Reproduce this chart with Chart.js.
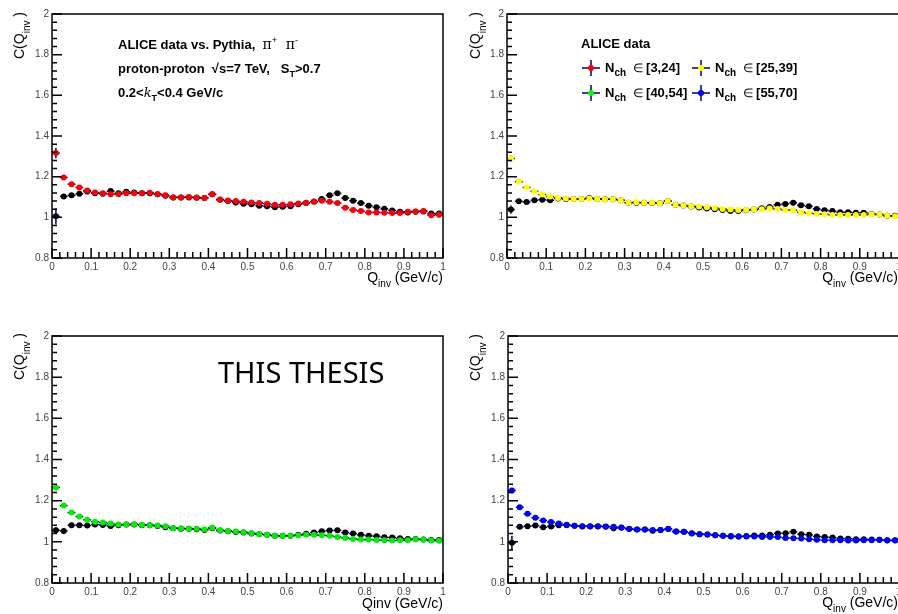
<!DOCTYPE html>
<html>
<head>
<meta charset="utf-8">
<script src="https://cdn.jsdelivr.net/npm/chart.js@4.4.0/dist/chart.umd.min.js"></script>
<style>
html, body { margin: 0; padding: 0; background: #fff; overflow: hidden; }
#page { position: relative; width: 898px; height: 614px; overflow: hidden; }
#page canvas { position: absolute; }
</style>
</head>
<body>
<div id="page">
  <canvas id="c1" width="449" height="300" style="left:0;top:0"></canvas>
  <canvas id="c2" width="460" height="300" style="left:449px;top:0"></canvas>
  <canvas id="c3" width="449" height="307" style="left:0;top:307px"></canvas>
  <canvas id="c4" width="460" height="307" style="left:449px;top:307px"></canvas>
</div>
<script>
// bin centres of Q_inv (GeV/c), bin width 0.02
const qBins = [0.01,0.03,0.05,0.07,0.09,0.11,0.13,0.15,0.17,0.19,
  0.21,0.23,0.25,0.27,0.29,0.31,0.33,0.35,0.37,0.39,
  0.41,0.43,0.45,0.47,0.49,0.51,0.53,0.55,0.57,0.59,
  0.61,0.63,0.65,0.67,0.69,0.71,0.73,0.75,0.77,0.79,
  0.81,0.83,0.85,0.87,0.89,0.91,0.93,0.95,0.97,0.99];
const binHalf = 0.01;

// ALICE data, N_ch in [3,24]
const alice3_24 = [1.316,1.196,1.163,1.147,1.132,1.122,1.119,1.114,1.114,1.118,
  1.118,1.119,1.121,1.114,1.109,1.098,1.098,1.100,1.098,1.095,
  1.113,1.088,1.083,1.080,1.077,1.073,1.070,1.067,1.062,1.062,
  1.064,1.068,1.072,1.077,1.082,1.077,1.070,1.047,1.036,1.031,
  1.024,1.024,1.023,1.021,1.021,1.028,1.029,1.031,1.010,1.013];
const pythia3_24 = [1.005,1.103,1.108,1.116,1.127,1.119,1.116,1.129,1.119,1.126,
  1.122,1.119,1.119,1.114,1.106,1.098,1.098,1.098,1.096,1.095,
  1.113,1.086,1.080,1.073,1.067,1.064,1.057,1.054,1.050,1.052,
  1.055,1.064,1.070,1.078,1.090,1.108,1.118,1.095,1.082,1.070,
  1.057,1.050,1.042,1.034,1.028,1.024,1.028,1.029,1.019,1.019];

// N_ch in [25,39]
const alice25_39 = [1.289,1.175,1.147,1.128,1.112,1.102,1.095,1.093,1.090,1.090,
  1.093,1.090,1.089,1.089,1.084,1.072,1.074,1.072,1.072,1.069,
  1.080,1.062,1.058,1.054,1.053,1.049,1.046,1.041,1.038,1.036,
  1.036,1.038,1.040,1.043,1.041,1.036,1.035,1.025,1.020,1.017,
  1.015,1.012,1.012,1.012,1.012,1.012,1.015,1.014,1.008,1.005];
const pythia25_39 = [1.038,1.079,1.075,1.084,1.087,1.084,1.093,1.090,1.090,1.090,
  1.095,1.090,1.089,1.089,1.084,1.072,1.072,1.072,1.070,1.069,
  1.080,1.062,1.058,1.053,1.048,1.043,1.040,1.036,1.031,1.031,
  1.035,1.038,1.045,1.051,1.062,1.066,1.072,1.059,1.054,1.041,
  1.035,1.031,1.025,1.025,1.022,1.023,1.017,1.014,1.008,1.008];

// N_ch in [40,54]
const alice40_54 = [1.264,1.176,1.142,1.123,1.107,1.098,1.094,1.089,1.084,1.084,
  1.085,1.082,1.081,1.079,1.076,1.066,1.066,1.064,1.063,1.060,
  1.069,1.056,1.053,1.050,1.047,1.042,1.037,1.035,1.030,1.029,
  1.030,1.032,1.034,1.034,1.032,1.029,1.024,1.019,1.014,1.011,
  1.011,1.009,1.008,1.006,1.008,1.008,1.012,1.011,1.006,1.005];
const pythia40_54 = [1.056,1.053,1.081,1.081,1.079,1.084,1.082,1.077,1.081,1.084,
  1.084,1.081,1.081,1.077,1.071,1.066,1.064,1.063,1.061,1.058,
  1.066,1.055,1.051,1.048,1.045,1.040,1.037,1.034,1.030,1.029,
  1.030,1.034,1.039,1.045,1.051,1.055,1.056,1.045,1.040,1.034,
  1.030,1.027,1.022,1.021,1.017,1.014,1.014,1.011,1.009,1.009];

// N_ch in [55,70]
const alice55_70 = [1.249,1.168,1.136,1.117,1.104,1.096,1.089,1.083,1.078,1.076,
  1.076,1.076,1.075,1.073,1.070,1.063,1.060,1.060,1.057,1.057,
  1.063,1.050,1.049,1.041,1.037,1.036,1.032,1.029,1.028,1.026,
  1.026,1.026,1.024,1.024,1.023,1.019,1.018,1.016,1.013,1.010,
  1.008,1.008,1.008,1.006,1.006,1.008,1.008,1.010,1.006,1.006];
const pythia55_70 = [0.995,1.073,1.076,1.079,1.071,1.075,1.081,1.081,1.078,1.075,
  1.075,1.075,1.073,1.066,1.068,1.062,1.060,1.060,1.054,1.057,
  1.062,1.050,1.049,1.042,1.037,1.036,1.032,1.029,1.026,1.026,
  1.028,1.031,1.031,1.034,1.041,1.042,1.049,1.037,1.034,1.026,
  1.023,1.021,1.016,1.015,1.013,1.013,1.011,1.010,1.008,1.008];

// vertical error of the first bin
const aliceErr0 = [0.025, 0.015, 0.012, 0.012];
const pythiaErr0 = [0.04, 0.02, 0.015, 0.035];

const yTickLabels = ['0.8', '1', '1.2', '1.4', '1.6', '1.8', '2'];
const xTickLabels = ['0', '0.1', '0.2', '0.3', '0.4', '0.5', '0.6', '0.7', '0.8', '0.9', '1'];

const SANS = '"Liberation Sans", Arial, sans-serif';
const BAR = '#00006e';

function points(vals, err0) {
  return qBins.map((q, i) => ({ x: q, y: vals[i], e: i === 0 ? err0 : 0 }));
}

function rich(ctx, parts, x, y, align) {
  let w = 0;
  parts.forEach(p => { ctx.font = p[1]; w += ctx.measureText(p[0]).width; });
  let cx = align === 'right' ? x - w : x;
  parts.forEach(p => {
    ctx.font = p[1];
    ctx.fillText(p[0], cx, y + (p[2] || 0));
    cx += ctx.measureText(p[0]).width;
  });
}

function yTitle(ctx, x, yEnd) {
  ctx.save();
  ctx.translate(x, yEnd);
  ctx.rotate(-Math.PI / 2);
  ctx.fillStyle = '#000';
  rich(ctx, [['C(Q', '14px ' + SANS], ['inv', '10px ' + SANS, 6], [' )', '14px ' + SANS]], 0, 0, 'right');
  ctx.restore();
}

function xTitle(ctx, right, base, plain) {
  ctx.fillStyle = '#000';
  if (plain) rich(ctx, [['Qinv (GeV/c)', '14px ' + SANS]], right, base, 'right');
  else rich(ctx, [['Q', '14px ' + SANS], ['inv', '10px ' + SANS, 5], [' (GeV/c)', '14px ' + SANS]], right, base, 'right');
}

// ROOT-like frame, inward ticks and horizontal bin-width bars
const rootStyle = {
  id: 'rootStyle',
  beforeDatasetsDraw(chart) {
    const { ctx, scales: { x, y } } = chart;
    ctx.save();
    ctx.strokeStyle = BAR;
    ctx.lineWidth = 1.5;
    chart.data.datasets.forEach(ds => {
      ds.data.forEach(p => {
        const py = y.getPixelForValue(p.y);
        const px = x.getPixelForValue(p.x);
        ctx.beginPath();
        ctx.moveTo(x.getPixelForValue(p.x - binHalf), py);
        ctx.lineTo(x.getPixelForValue(p.x + binHalf), py);
        if (p.e) {
          ctx.moveTo(px, y.getPixelForValue(p.y - p.e));
          ctx.lineTo(px, y.getPixelForValue(p.y + p.e));
        }
        ctx.stroke();
      });
    });
    ctx.restore();
  },
  afterDraw(chart) {
    const { ctx, chartArea: a, scales: { x, y } } = chart;
    ctx.save();
    ctx.strokeStyle = '#000';
    ctx.lineWidth = 1.5;
    ctx.strokeRect(a.left, a.top, a.right - a.left, a.bottom - a.top);
    ctx.beginPath();
    for (let i = 0; i <= 30; i++) {
      const py = y.getPixelForValue(0.8 + i * 0.04);
      ctx.moveTo(a.left, py);
      ctx.lineTo(a.left + (i % 5 === 0 ? 10 : 5), py);
    }
    for (let i = 0; i <= 50; i++) {
      const px = x.getPixelForValue(i * 0.02);
      ctx.moveTo(px, a.bottom);
      ctx.lineTo(px, a.bottom - (i % 5 === 0 ? 10 : 6));
    }
    ctx.stroke();
    ctx.restore();
  }
};

function makePanel(id, alice, pythia, color, idx, box, notes) {
  const tickFont = { family: SANS, size: 10 };
  return new Chart(document.getElementById(id), {
    type: 'scatter',
    data: {
      datasets: [
        // first dataset is drawn on top
        { label: 'ALICE', data: points(alice, aliceErr0[idx]), backgroundColor: color, pointRadius: 3, pointBorderWidth: 0 },
        { label: 'Pythia', data: points(pythia, pythiaErr0[idx]), backgroundColor: '#000', pointRadius: 3, pointBorderWidth: 0 }
      ]
    },
    options: {
      responsive: false,
      animation: false,
      events: [],
      layout: { padding: { top: box.top, right: box.right, left: 0, bottom: 0 } },
      plugins: { legend: { display: false }, tooltip: { enabled: false } },
      scales: {
        x: {
          type: 'linear', min: 0, max: 1,
          afterFit: s => { s.height = box.xh; },
          ticks: { stepSize: 0.1, padding: 3, font: tickFont, color: '#444', maxRotation: 0,
            callback: (v, i) => xTickLabels[i] },
          grid: { display: false, drawTicks: false },
          border: { display: false }
        },
        y: {
          min: 0.8, max: 2,
          afterFit: s => { s.width = box.yw; },
          ticks: { stepSize: 0.2, padding: 3, font: tickFont, color: '#444',
            callback: (v, i) => yTickLabels[i] },
          grid: { display: false, drawTicks: false },
          border: { display: false }
        }
      }
    },
    plugins: [rootStyle, { id: 'notes', afterDraw: c => notes(c.ctx) }]
  });
}

makePanel('c1', alice3_24, pythia3_24, '#ff0000', 0, { top: 14, right: 6, xh: 42, yw: 52 }, ctx => {
  yTitle(ctx, 24, 12);
  xTitle(ctx, 443, 282, false);
  ctx.fillStyle = '#000';
  const B = 'bold 13px ' + SANS, S = 'bold 9px ' + SANS, R = '14px "DejaVu Serif", serif', Rs = '9px ' + SANS;
  rich(ctx, [['ALICE data vs. Pythia,  ', B], ['π', R], ['+', Rs, -6], ['  π', R], ['-', Rs, -6]], 118, 49);
  rich(ctx, [['proton-proton  √s=7 TeV,   S', B], ['T', S, 4], ['>0.7', B]], 118, 73);
  rich(ctx, [['0.2<', B], ['k', 'italic 13px "DejaVu Serif", serif'], ['T', S, 4], ['<0.4 GeV/c', B]], 118, 97);
});

makePanel('c2', alice25_39, pythia25_39, '#ffff00', 1, { top: 14, right: 10, xh: 42, yw: 58 }, ctx => {
  yTitle(ctx, 31, 12);
  xTitle(ctx, 449, 282, false);
  ctx.fillStyle = '#000';
  const B = 'bold 13px ' + SANS;
  rich(ctx, [['ALICE data', B]], 132, 48);
  const entries = [
    ['[3,24]', '#ff0000', 142, 68], ['[25,39]', '#ffff00', 252, 68],
    ['[40,54]', '#00ff00', 142, 93], ['[55,70]', '#0000ff', 252, 93]
  ];
  entries.forEach(([rng, col, mx, my]) => {
    ctx.strokeStyle = BAR;
    ctx.lineWidth = 1.5;
    ctx.beginPath();
    ctx.moveTo(mx - 9, my); ctx.lineTo(mx + 9, my);
    ctx.moveTo(mx, my - 8); ctx.lineTo(mx, my + 8);
    ctx.stroke();
    ctx.fillStyle = col;
    ctx.beginPath(); ctx.arc(mx, my, 3, 0, Math.PI * 2); ctx.fill();
    ctx.fillStyle = '#000';
    rich(ctx, [['N', B], ['ch', 'bold 10px ' + SANS, 4], ['  ∈ ', '12px ' + SANS], [rng, B]], mx + 14, my + 4);
  });
});

makePanel('c3', alice40_54, pythia40_54, '#00ee00', 2, { top: 29, right: 6, xh: 31, yw: 52 }, ctx => {
  yTitle(ctx, 24, 26);
  xTitle(ctx, 443, 301, true);
  ctx.fillStyle = '#000';
  rich(ctx, [['THIS THESIS', '29px "Noto Sans", sans-serif']], 218, 76);
});

makePanel('c4', alice55_70, pythia55_70, '#0000ff', 3, { top: 29, right: 10, xh: 31, yw: 59 }, ctx => {
  yTitle(ctx, 31, 27);
  xTitle(ctx, 449, 300, false);
});
</script>
</body>
</html>
